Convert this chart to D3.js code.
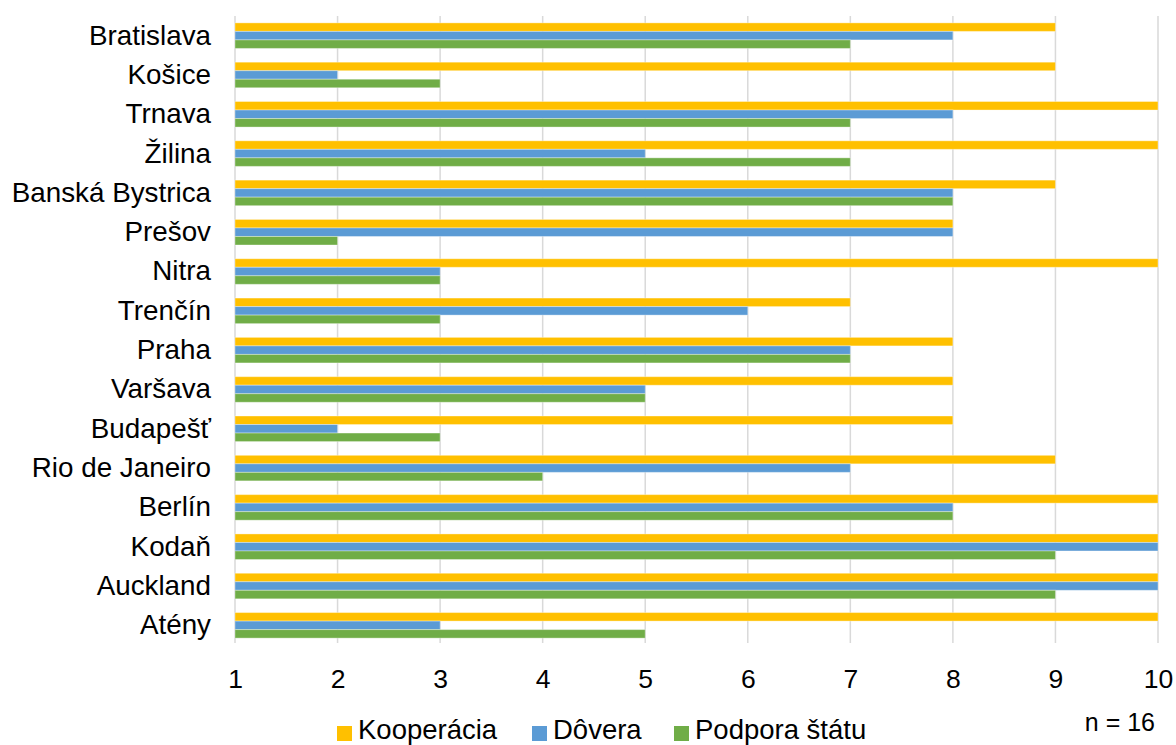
<!DOCTYPE html>
<html>
<head>
<meta charset="utf-8">
<script src="https://cdn.jsdelivr.net/npm/d3@7"></script>
<style>
  html, body { margin: 0; padding: 0; background: #fff; }
  svg { display: block; font-family: "Liberation Sans", Arial, sans-serif; }
</style>
</head>
<body>
<svg id="chart" width="1176" height="745"></svg>
<script>
// Cities (top to bottom)
const cities = [
  "Bratislava", "Košice", "Trnava", "Žilina", "Banská Bystrica", "Prešov",
  "Nitra", "Trenčín", "Praha", "Varšava", "Budapešť", "Rio de Janeiro",
  "Berlín", "Kodaň", "Auckland", "Atény"
];

// Series values, one per city
const kooperacia   = [9, 9, 10, 10, 9, 8, 10, 7, 8, 8, 8, 9, 10, 10, 10, 10];
const dovera       = [8, 2, 8, 5, 8, 8, 3, 6, 7, 5, 2, 7, 8, 10, 10, 3];
const podporaStatu = [7, 3, 7, 7, 8, 2, 3, 3, 7, 5, 3, 4, 8, 9, 9, 5];

const seriesNames  = ["Kooperácia", "Dôvera", "Podpora štátu"];
const seriesColors = ["#FFC000", "#5B9BD5", "#70AD47"];
const xTicks = [1, 2, 3, 4, 5, 6, 7, 8, 9, 10];
const note = "n = 16";

const seriesValues = [kooperacia, dovera, podporaStatu];
const rows = cities.map((c, i) => ({
  city: c,
  values: seriesNames.map((s, j) => ({ key: s, value: seriesValues[j][i] }))
}));

const svg = d3.select("#chart");
const plotLeft = 235, plotRight = 1158, plotTop = 16, plotBottom = 645;
const fontFamily = "'Liberation Sans', Arial, sans-serif";

const x = d3.scaleLinear().domain([1, 10]).range([plotLeft, plotRight]);
const y = d3.scaleBand().domain(cities).range([plotTop, plotBottom]).paddingInner(0.35).paddingOuter(0.175);
const ySub = d3.scaleBand().domain(seriesNames).range([0, y.bandwidth()]);
const color = d3.scaleOrdinal().domain(seriesNames).range(seriesColors);

// Vertical gridlines
svg.append("g")
  .selectAll("line")
  .data(xTicks)
  .join("line")
  .attr("x1", d => x(d)).attr("x2", d => x(d))
  .attr("y1", plotTop).attr("y2", plotBottom - 2)
  .attr("stroke", "#d9d9d9")
  .attr("stroke-width", 1.5);

// Bars
const groups = svg.append("g")
  .selectAll("g")
  .data(rows)
  .join("g")
  .attr("transform", d => `translate(0,${y(d.city)})`);

groups.selectAll("rect")
  .data(d => d.values)
  .join("rect")
  .attr("x", x(1))
  .attr("y", d => ySub(d.key))
  .attr("width", d => x(d.value) - x(1))
  .attr("height", ySub.bandwidth())
  .attr("fill", d => color(d.key))
  .attr("stroke", "rgba(255,255,255,0.35)")
  .attr("stroke-width", 1);

// Category axis labels
const yAxis = d3.axisLeft(y).tickSize(0).tickPadding(24);
svg.append("g")
  .attr("transform", `translate(${plotLeft},0)`)
  .call(yAxis)
  .call(g => g.select(".domain").remove())
  .call(g => g.selectAll("text")
    .attr("font-size", 27.8)
    .attr("font-family", fontFamily)
    .attr("fill", "#000"));

// Value axis labels
const xAxis = d3.axisBottom(x).tickValues(xTicks).tickSize(0).tickPadding(0).tickFormat(d3.format("d"));
svg.append("g")
  .attr("transform", `translate(0,${669})`)
  .call(xAxis)
  .call(g => g.select(".domain").remove())
  .call(g => g.selectAll("text")
    .attr("font-size", 26.5)
    .attr("font-family", fontFamily)
    .attr("fill", "#000"));

// Legend
const legendX = [337, 532, 674];
const legend = svg.append("g");
seriesNames.forEach((s, i) => {
  const g = legend.append("g").attr("transform", `translate(${legendX[i]},726)`);
  g.append("rect").attr("width", 15).attr("height", 15).attr("fill", color(s));
  g.append("text")
    .attr("x", 21).attr("y", 13)
    .attr("font-size", 27.5)
    .attr("font-family", fontFamily)
    .attr("fill", "#000")
    .text(s);
});

// Sample size note
svg.append("text")
  .attr("x", 1155).attr("y", 731)
  .attr("text-anchor", "end")
  .attr("font-size", 25)
  .attr("font-family", fontFamily)
  .attr("fill", "#000")
  .text(note);
</script>
</body>
</html>
